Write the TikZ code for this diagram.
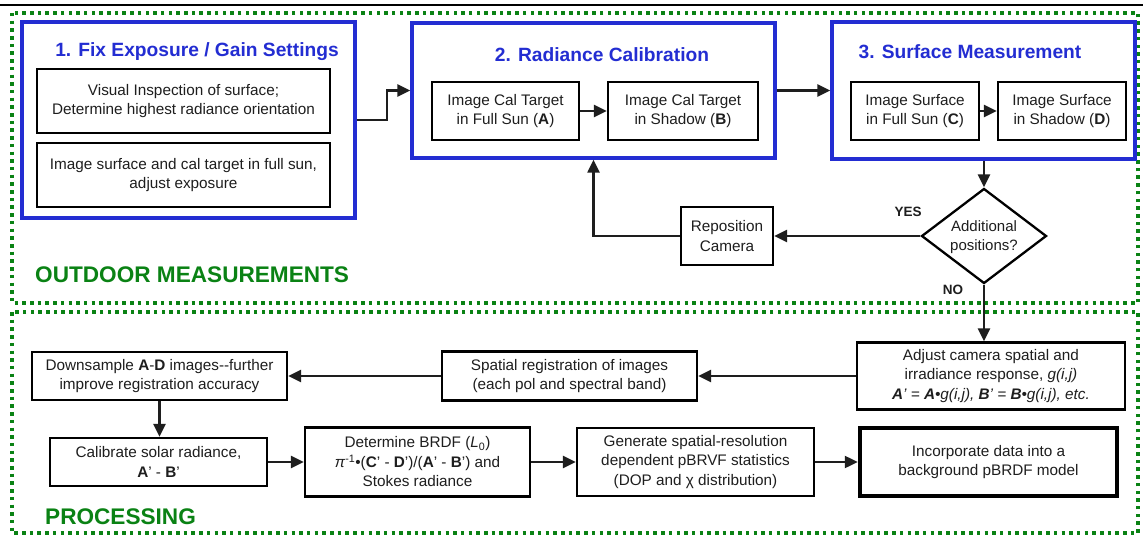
\documentclass[tikz,border=0pt]{standalone}
\usepackage{fontspec}
\setmainfont{Liberation Sans}
\usetikzlibrary{arrows.meta,shapes.geometric}
\definecolor{grn}{RGB}{10,130,20}
\definecolor{blu}{RGB}{35,45,210}
\definecolor{txt}{RGB}{30,30,30}
\begin{document}
\begin{tikzpicture}[x=1pt,y=-1pt,
  wh/.style 2 args={minimum width=#1pt, minimum height=#2pt},
  box/.style={draw=black, line width=2.3pt, fill=white, align=center, inner sep=0pt,
    font=\fontsize{15.3}{19.5}\selectfont, text=txt},
  stage/.style={draw=blu, line width=3.4pt, inner sep=0pt},
  ttl/.style={font=\fontsize{19.2}{22}\selectfont\bfseries, text=blu, inner sep=0pt},
  region/.style={draw=grn, line width=3.5pt, dash pattern=on 3.5pt off 4.2pt},
  rlabel/.style={font=\fontsize{22.6}{26}\selectfont\bfseries, text=grn, inner sep=0pt, anchor=west},
  yn/.style={font=\fontsize{13.5}{16}\selectfont\bfseries, text=txt, inner sep=0pt},
  conn/.style={line width=2.4pt, draw=txt, -{Triangle[length=13pt,width=12pt]}},
  dia/.style={diamond, draw=black, line width=2.3pt, fill=white, inner sep=0pt,
    minimum width=125pt, minimum height=95pt},
  diatext/.style={align=center, inner sep=0pt, font=\fontsize{15}{19}\selectfont, text=txt}
]
\useasboundingbox (0,0) rectangle (1143,540);
\fill[white] (0,0) rectangle (1143,540);
% top rule
\draw[line width=1.6pt, black] (0,5) -- (1143,5);
% regions
\draw[region] (12,13) rectangle (1138,303);
\draw[region] (12,312) rectangle (1138,533);
\node[rlabel] (lout) at (35,275) {OUTDOOR MEASUREMENTS};
\node[rlabel] (lproc) at (45,517) {PROCESSING};

% stage 1
\node[stage, wh={333}{196}] (s1) at (188.5,120) {};
\node[ttl] (t1) at (197,52) {1. Fix Exposure / Gain Settings};
\node[box, wh={293}{64}] (v1) at (183.5,101) {Visual Inspection of surface;\\Determine highest radiance orientation};
\node[box, wh={293}{64}] (v2) at (183.5,175) {Image surface and cal target in full sun,\\adjust exposure};

% stage 2
\node[stage, wh={363}{135}] (s2) at (593.5,90.5) {};
\node[ttl] (t2) at (602,55) {2. Radiance Calibration};
\node[box, wh={147}{58}] (ca) at (505.5,111) {Image Cal Target\\in Full Sun (\textbf{A})};
\node[box, wh={150}{58}] (cb) at (683,111) {Image Cal Target\\in Shadow (\textbf{B})};

% stage 3
\node[stage, wh={303}{137}] (s3) at (983.5,90.5) {};
\node[ttl] (t3) at (970,52) {3. Surface Measurement};
\node[box, wh={128}{58}] (sc) at (915,111) {Image Surface\\in Full Sun (\textbf{C})};
\node[box, wh={128}{58}] (sd) at (1062,111) {Image Surface\\in Shadow (\textbf{D})};

% decision
\node[dia] (q) at (984,236) {};
\node[diatext] (qt) at (984,237.5) {Additional\\positions?};
\node[box, wh={92}{58}] (rep) at (727,236) {Reposition\\Camera};
\node[yn] (yes) at (908,212) {YES};
\node[yn] (no) at (953,290) {NO};

% processing
\node[box, wh={268}{67}] (adj) at (991,376) {Adjust camera spatial and\\irradiance response, \textit{g(i,j)}\\\textbf{\textit{A}}\textit{’ = }\textbf{\textit{A}}\textit{•g(i,j), }\textbf{\textit{B}}\textit{’ = }\textbf{\textit{B}}\textit{•g(i,j), etc.}};
\node[box, wh={255}{49}] (spa) at (569.5,376) {Spatial registration of images\\(each pol and spectral band)};
\node[box, wh={255}{48}] (dwn) at (159.5,376) {Downsample \textbf{A}-\textbf{D} images-{}-further\\improve registration accuracy};
\node[box, wh={217}{48}] (cal) at (158.5,462) {Calibrate solar radiance,\\\textbf{A}’ - \textbf{B}’};
\node[box, wh={225}{69}] (brdf) at (417.5,462) {Determine BRDF (\textit{L}\textsubscript{0})\\\textit{π}\textsuperscript{-1}•(\textbf{C}’ - \textbf{D}’)/(\textbf{A}’ - \textbf{B}’) and\\Stokes radiance};
\node[box, wh={237}{68}] (gen) at (695.5,462) {Generate spatial-resolution\\dependent pBRVF statistics\\(DOP and χ distribution)};
\node[box, wh={257}{68}, line width=4.5pt] (inc) at (988.5,462) {Incorporate data into a\\background pBRDF model};

% connectors
\draw[conn] (s1.east) -- ++(30,0) |- (s2.west);
\draw[conn] (ca.east) -- (cb.west);
\draw[conn] (s2.east) -- (s3.west);
\draw[conn] (sc.east) -- (sd.west);
\draw[conn] (s3.south -| q.north) -- (q.north);
\draw[conn] (q.west) -- (rep.east);
\draw[conn] (rep.west) -| (s2.south);
\draw[conn] (q.south) -- (q.south |- adj.north);
\draw[conn] (adj.west) -- (spa.east);
\draw[conn] (spa.west) -- (dwn.east);
\draw[conn] (dwn.south) -- (dwn.south |- cal.north);
\draw[conn] (cal.east) -- (brdf.west);
\draw[conn] (brdf.east) -- (gen.west);
\draw[conn] (gen.east) -- (inc.west);
\end{tikzpicture}
\end{document}
